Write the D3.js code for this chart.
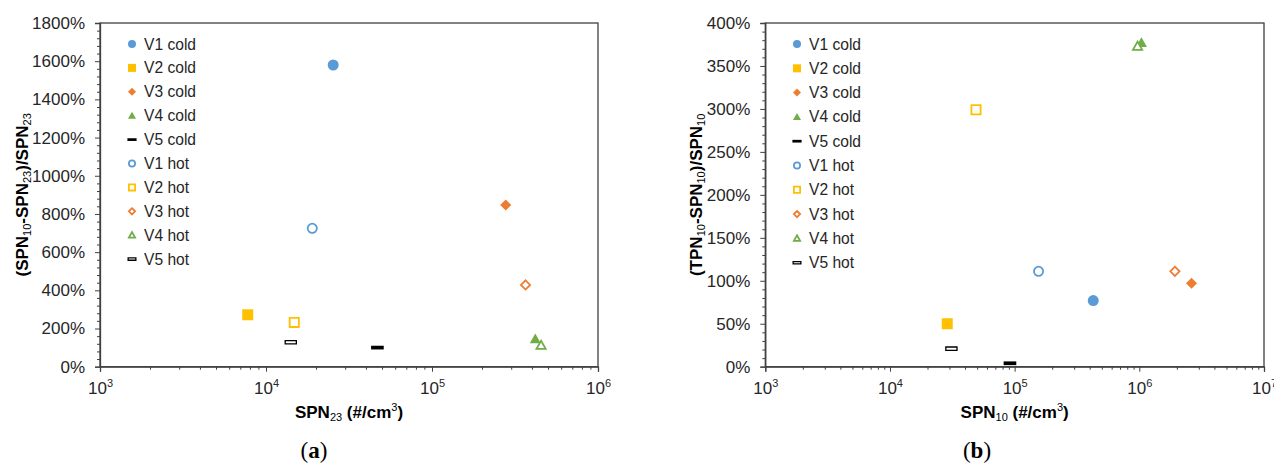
<!DOCTYPE html>
<html>
<head>
<meta charset="utf-8">
<script src="https://cdn.jsdelivr.net/npm/d3@7"></script>
<style>
  html, body { margin: 0; padding: 0; background: #fff; }
  svg { display: block; }
  text { font-family: "Liberation Sans", Arial, sans-serif; }
  text.caption { font-family: "Liberation Serif", "DejaVu Serif", serif; }
</style>
</head>
<body>
<svg id="chart" width="1274" height="468"></svg>
<script>
// Series in legend order
const seriesNames = ["V1 cold", "V2 cold", "V3 cold", "V4 cold", "V5 cold",
                     "V1 hot", "V2 hot", "V3 hot", "V4 hot", "V5 hot"];

// Panel (a): SPN23 (#/cm3) vs (SPN10-SPN23)/SPN23 (%)
const spn23 = [25400, 7760, 278000, 419000, 46900, 19000, 14800, 366000, 454000, 14100];
const ratioA = [1580, 272, 847, 145, 100, 725, 232, 428, 112, 128];

// Panel (b): SPN10 (#/cm3) vs (TPN10-SPN10)/SPN10 (%)
const spn10 = [427000, 28800, 2620000, 1040000, 91700, 155500, 49000, 1930000, 968000, 31100];
const ratioB = [77, 50, 97, 377, 4, 111, 299, 111, 373, 21];

// Axis tick values
const yTicksA = [0, 200, 400, 600, 800, 1000, 1200, 1400, 1600, 1800];
const yTicksB = [0, 50, 100, 150, 200, 250, 300, 350, 400];
const xDecadesA = [3, 4, 5, 6];
const xDecadesB = [3, 4, 5, 6, 7];

// Marker styling per series
const colors = ["#5B9BD5", "#FFC000", "#ED7D31", "#70AD47", "#000000",
                "#5B9BD5", "#FFC000", "#ED7D31", "#70AD47", "#000000"];
const shapes = ["circle", "square", "diamond", "triangle", "dash",
                "circle", "square", "diamond", "triangle", "dash"];
const filled = [true, true, true, true, true, false, false, false, false, false];

const svg = d3.select("#chart");

function markerPath(shape, s) {
  const p = d3.path();
  const h = s / 2;
  if (shape === "circle") {
    p.moveTo(h, 0); p.arc(0, 0, h, 0, 2 * Math.PI);
  } else if (shape === "square") {
    p.rect(-h, -h, s, s);
  } else if (shape === "diamond") {
    p.moveTo(0, -h); p.lineTo(h, 0); p.lineTo(0, h); p.lineTo(-h, 0); p.closePath();
  } else if (shape === "triangle") {
    p.moveTo(0, -h); p.lineTo(h, h * 0.78); p.lineTo(-h, h * 0.78); p.closePath();
  } else if (shape === "dash") {
    p.rect(-h * 1.15, -s * 0.17, s * 1.15, s * 0.34);
  }
  return p.toString();
}

function drawMarker(g, i, x, y, size) {
  const isDash = shapes[i] === "dash";
  const sw = filled[i] ? 0 : (isDash ? 1.3 : 1.8);
  const sz = filled[i] ? size : size - sw;
  g.append("path")
    .attr("transform", `translate(${x},${y})`)
    .attr("d", markerPath(shapes[i], sz))
    .attr("fill", filled[i] ? colors[i] : "#fff")
    .attr("stroke", filled[i] ? "none" : colors[i])
    .attr("stroke-width", sw);
}

function panel(cfg) {
  const g = svg.append("g");
  const x = d3.scaleLog().domain([10 ** cfg.decades[0], 10 ** cfg.decades[cfg.decades.length - 1]])
    .range([cfg.left, cfg.right]);
  const y = d3.scaleLinear().domain([0, cfg.yMax]).range([cfg.bottom, cfg.top]);

  // Plot frame
  g.append("rect")
    .attr("x", cfg.left).attr("y", cfg.top)
    .attr("width", cfg.right - cfg.left).attr("height", cfg.bottom - cfg.top)
    .attr("fill", "none").attr("stroke", "#404040").attr("stroke-width", 1.3);

  // Y axis: major + minor ticks
  const yMinor = d3.range(0, cfg.yMax + 1e-9, cfg.yMinorStep).filter(v => !cfg.yTicks.includes(v));
  const yMinorAxis = d3.axisLeft(y).tickValues(yMinor).tickSize(3).tickFormat("");
  const gm = g.append("g").attr("transform", `translate(${cfg.left},0)`).call(yMinorAxis);
  gm.select(".domain").remove();
  gm.selectAll("line").attr("stroke", "#404040");

  const yAxis = d3.axisLeft(y).tickValues(cfg.yTicks).tickSize(5).tickPadding(10)
    .tickFormat(d => d + "%");
  const gy = g.append("g").attr("transform", `translate(${cfg.left},0)`).call(yAxis);
  gy.select(".domain").attr("stroke", "#404040").attr("stroke-width", 1.3);
  gy.selectAll("line").attr("stroke", "#404040");
  gy.selectAll("text").attr("font-size", 17).attr("fill", "#262626");

  // X axis: log minors + decades
  const xMinor = [];
  cfg.decades.slice(0, -1).forEach(dd => { for (let k = 2; k <= 9; k++) xMinor.push(k * 10 ** dd); });
  const xMinorAxis = d3.axisBottom(x).tickValues(xMinor).tickSize(3).tickFormat("");
  const gxm = g.append("g").attr("transform", `translate(0,${cfg.bottom})`).call(xMinorAxis);
  gxm.select(".domain").remove();
  gxm.selectAll("line").attr("stroke", "#404040");

  const xAxis = d3.axisBottom(x).tickValues(cfg.decades.map(d => 10 ** d)).tickSize(5).tickFormat("");
  const gx = g.append("g").attr("transform", `translate(0,${cfg.bottom})`).call(xAxis);
  gx.select(".domain").attr("stroke", "#404040").attr("stroke-width", 1.3);
  gx.selectAll("line").attr("stroke", "#404040");
  gx.selectAll(".tick").each(function (d) {
    const t = d3.select(this).append("text")
      .attr("y", 27).attr("fill", "#262626").attr("font-size", 17)
      .attr("text-anchor", "middle");
    t.append("tspan").text("10");
    t.append("tspan").attr("font-size", 11).attr("dy", -7).text(Math.round(Math.log10(d)));
  });

  // X axis title
  const xt = g.append("text")
    .attr("x", (cfg.left + cfg.right) / 2).attr("y", cfg.bottom + 51)
    .attr("text-anchor", "middle").attr("font-weight", "bold").attr("font-size", 17).attr("fill", "#000");
  xt.append("tspan").text(cfg.xTitle[0]);
  xt.append("tspan").attr("font-size", 11).attr("font-weight", "normal").attr("dy", 3).text(cfg.xTitle[1]);
  xt.append("tspan").attr("dy", -3).text(" (#/cm");
  xt.append("tspan").attr("font-size", 11).attr("font-weight", "normal").attr("dy", -7).text("3");
  xt.append("tspan").attr("dy", 7).text(")");

  // Y axis title (rotated)
  const cy = (cfg.top + cfg.bottom) / 2;
  const yt = g.append("text")
    .attr("transform", `translate(${cfg.yTitleX},${cy}) rotate(-90)`)
    .attr("text-anchor", "middle").attr("font-weight", "bold").attr("font-size", 17).attr("fill", "#000");
  cfg.yTitle.forEach(part => {
    const ts = yt.append("tspan").text(part.t);
    if (part.sub) ts.attr("font-size", 11).attr("font-weight", "normal").attr("dy", 3);
    if (part.back) ts.attr("dy", -3);
  });

  // Points
  const pts = g.append("g");
  seriesNames.forEach((n, i) => {
    drawMarker(pts, i, x(cfg.xs[i]), y(cfg.ys[i]), 11);
  });

  // Legend
  const lg = g.append("g");
  seriesNames.forEach((n, i) => {
    const ly = cfg.legendY + i * cfg.legendStep;
    drawMarker(lg, i, cfg.legendX, ly, 8);
    lg.append("text").attr("x", cfg.legendX + 12).attr("y", ly + 5.5)
      .attr("font-size", 15.6).attr("fill", "#262626").text(n);
  });

  // Panel caption
  const cap = g.append("text").attr("class", "caption")
    .attr("x", cfg.capX).attr("y", 458).attr("text-anchor", "middle")
    .attr("font-size", 23).attr("fill", "#000");
  cap.append("tspan").text("(");
  cap.append("tspan").attr("font-weight", "bold").text(cfg.cap);
  cap.append("tspan").text(")");
}

panel({
  left: 100, right: 598, top: 23, bottom: 366.7,
  decades: xDecadesA, yMax: 1800, yTicks: yTicksA, yMinorStep: 40,
  xs: spn23, ys: ratioA,
  xTitle: ["SPN", "23"],
  yTitle: [{t: "(SPN"}, {t: "10", sub: true}, {t: "-SPN", back: true}, {t: "23", sub: true},
           {t: ")/SPN", back: true}, {t: "23", sub: true}],
  yTitleX: 28,
  legendX: 132, legendY: 44, legendStep: 23.9,
  capX: 314, cap: "a"
});

panel({
  left: 765.3, right: 1264, top: 23, bottom: 366.7,
  decades: xDecadesB, yMax: 400, yTicks: yTicksB, yMinorStep: 10,
  xs: spn10, ys: ratioB,
  xTitle: ["SPN", "10"],
  yTitle: [{t: "(TPN"}, {t: "10", sub: true}, {t: "-SPN", back: true}, {t: "10", sub: true},
           {t: ")/SPN", back: true}, {t: "10", sub: true}],
  yTitleX: 701.5,
  legendX: 797, legendY: 44, legendStep: 24.3,
  capX: 977, cap: "b"
});
</script>
</body>
</html>
